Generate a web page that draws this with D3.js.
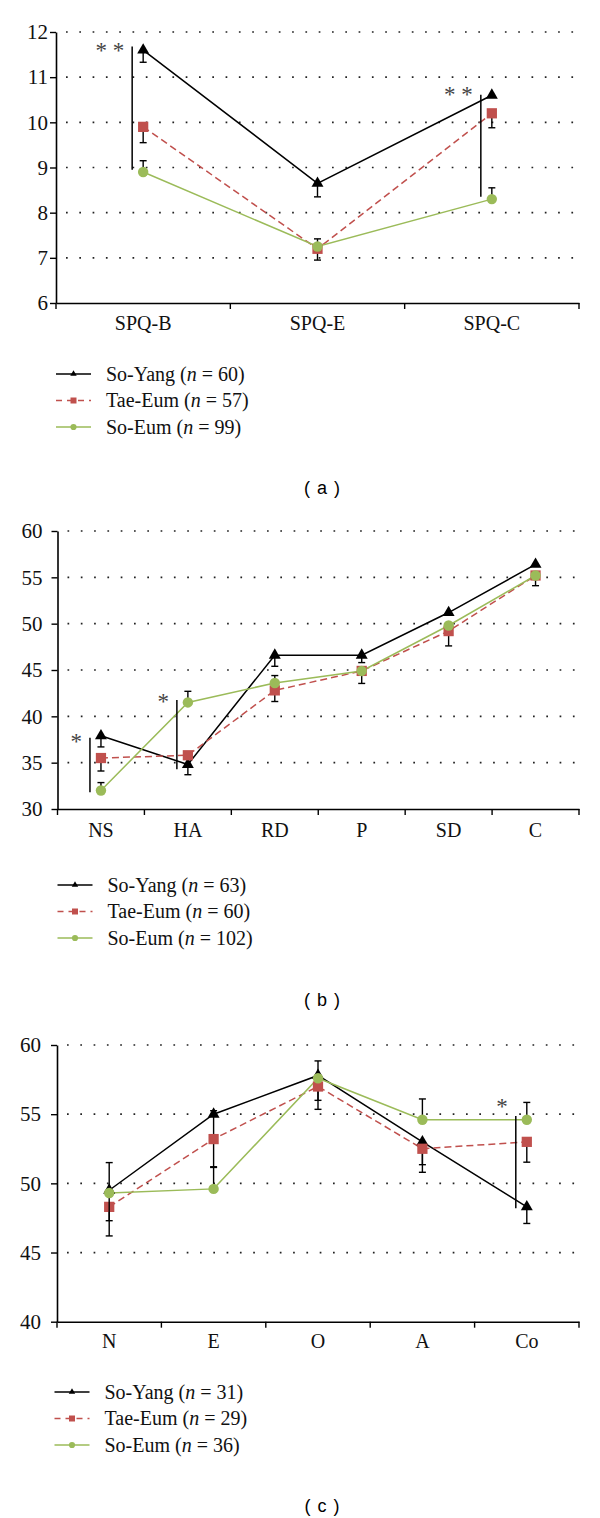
<!DOCTYPE html>
<html>
<head>
<meta charset="utf-8">
<script src="https://cdn.jsdelivr.net/npm/d3@7"></script>
<style>
  html, body { margin: 0; padding: 0; background: #fff; }
  svg { display: block; }
</style>
</head>
<body>
<svg id="chart" width="600" height="1518"></svg>
<script>
// ---------------- DATA ----------------
const seriesNames = ["So-Yang", "Tae-Eum", "So-Eum"];

// Panel (a)
const categoriesA = ["SPQ-B", "SPQ-E", "SPQ-C"];
const soYangA = [11.6, 8.65, 10.6];
const taeEumA = [9.9, 7.2, 10.2];
const soEumA  = [8.9, 7.25, 8.3];
const soYangAErrUp = [0, 0, 0],      soYangAErrDown = [0.27, 0.3, 0];
const taeEumAErrUp = [0, 0.22, 0],   taeEumAErrDown = [0.35, 0.25, 0.32];
const soEumAErrUp  = [0.25, 0, 0.25], soEumAErrDown = [0, 0, 0];
const nA = [60, 57, 99];
const yTicksA = [6, 7, 8, 9, 10, 11, 12];
const sigA = [
  { cat: "SPQ-B", lo: 8.95, hi: 11.68, star: 11.68, label: "* *" },
  { cat: "SPQ-C", lo: 8.35, hi: 10.61, star: 10.72, label: "* *" }
];

// Panel (b)
const categoriesB = ["NS", "HA", "RD", "P", "SD", "C"];
const soYangB = [37.9, 34.8, 46.6, 46.6, 51.2, 56.4];
const taeEumB = [35.5, 35.8, 42.8, 44.9, 49.2, 55.2];
const soEumB  = [32.0, 41.5, 43.6, 44.9, 49.8, 55.2];
const soYangBErrUp = [0, 0, 0, 0, 0, 0],      soYangBErrDown = [1.2, 1.1, 1.2, 0.8, 0, 0];
const taeEumBErrUp = [0, 0, 0, 0, 0, 0],      taeEumBErrDown = [1.4, 0, 1.2, 1.35, 1.6, 1.1];
const soEumBErrUp  = [0.85, 1.2, 0.8, 0, 0, 0], soEumBErrDown = [0, 0, 0, 0, 0, 0];
const nB = [63, 60, 102];
const yTicksB = [30, 35, 40, 45, 50, 55, 60];
const sigB = [
  { cat: "NS", lo: 31.8, hi: 37.7, star: 37.8, label: "*" },
  { cat: "HA", lo: 34.3, hi: 41.75, star: 42.1, label: "*" }
];

// Panel (c)
const categoriesC = ["N", "E", "O", "A", "Co"];
const soYangC = [49.5, 55.0, 57.8, 53.0, 48.3];
const taeEumC = [48.3, 53.2, 57.0, 52.5, 53.0];
const soEumC  = [49.3, 49.6, 57.6, 54.6, 54.6];
const soYangCErrUp = [2.0, 0, 0, 0, 0],        soYangCErrDown = [0, 0, 1.8, 1.65, 1.2];
const taeEumCErrUp = [0, 2.05, 0, 0, 0],       taeEumCErrDown = [2.1, 2.05, 1.65, 1.7, 1.47];
const soEumCErrUp  = [0, 1.6, 1.25, 1.5, 1.25], soEumCErrDown = [2.0, 0, 0, 0, 0];
const nC = [31, 29, 36];
const yTicksC = [40, 45, 50, 55, 60];
const sigC = [
  { cat: "Co", lo: 48.2, hi: 54.87, star: 55.9, label: "*" }
];

// ---------------- STYLE ----------------
const colors = ["#000000", "#c0504d", "#9bbb59"];
const dashes = [null, "7,4", null];
const symbols = [d3.symbolTriangle, d3.symbolSquare, d3.symbolCircle];
const symSizes = [62, 105, 85];
const legSymSizes = [18, 36, 30];
const serif = "'Liberation Serif', 'DejaVu Serif', serif";

const svg = d3.select("#chart");

function drawPanel(cfg) {
  const g = svg.append("g");
  const x = d3.scaleBand().domain(cfg.cats).range([cfg.x0, cfg.x1]).padding(0);
  const y = d3.scaleLinear().domain([cfg.ticks[0], cfg.ticks[cfg.ticks.length - 1]]).range([cfg.yBot, cfg.yTop]);
  const cx = c => x(c) + x.bandwidth() / 2;

  // dotted gridlines
  g.append("g").selectAll("line")
    .data(cfg.ticks.slice(1))
    .join("line")
    .attr("x1", cfg.x0 + 10).attr("x2", cfg.x1 - 4)
    .attr("y1", d => y(d)).attr("y2", d => y(d))
    .attr("stroke", "#222").attr("stroke-width", 1.7)
    .attr("stroke-dasharray", "1.7,11.6");

  // y axis
  const ya = g.append("g")
    .attr("transform", `translate(${cfg.x0},0)`)
    .attr("font-family", serif)
    .call(d3.axisLeft(y).tickValues(cfg.ticks).tickSize(6).tickSizeOuter(0).tickPadding(cfg.tickPad).tickFormat(d3.format("d")));
  ya.attr("font-family", serif).attr("font-size", cfg.tickFont);
  ya.select(".domain").attr("stroke", "#000").attr("stroke-width", 1.6);
  ya.selectAll(".tick line").attr("stroke", "#000").attr("stroke-width", 1.4);
  ya.selectAll(".tick text").style("font-family", serif).style("font-size", cfg.tickFont + "px").attr("fill", "#111");

  // x axis (labels at centers, ticks at band boundaries)
  const xa = g.append("g")
    .attr("transform", `translate(0,${cfg.yBot})`)
    .call(d3.axisBottom(x).tickSize(0).tickSizeOuter(0).tickPadding(0));
  xa.attr("font-family", serif).attr("font-size", cfg.fontSize);
  xa.select(".domain").attr("stroke", "#000").attr("stroke-width", 1.6);
  xa.selectAll(".tick text")
    .style("font-family", serif).style("font-size", cfg.fontSize + "px").attr("fill", "#111")
    .attr("dy", null).attr("y", cfg.labelDy);
  const bounds = d3.range(cfg.cats.length + 1).map(i => cfg.x0 + i * x.step());
  g.append("g").selectAll("line").data(bounds).join("line")
    .attr("x1", d => d).attr("x2", d => d)
    .attr("y1", cfg.yBot).attr("y2", cfg.yBot + 6)
    .attr("stroke", "#000").attr("stroke-width", 1.4);

  // lines
  const line = d3.line().x((d, i) => cx(cfg.cats[i])).y(d => y(d));
  cfg.series.forEach((s, si) => {
    g.append("path").datum(s.values)
      .attr("d", line).attr("fill", "none")
      .attr("stroke", colors[si]).attr("stroke-width", 1.5)
      .attr("stroke-dasharray", dashes[si]);
  });

  // error bars + markers
  cfg.series.forEach((s, si) => {
    const eg = g.append("g");
    s.values.forEach((v, i) => {
      const xc = cx(cfg.cats[i]);
      [[s.up[i], 1], [s.down[i], -1]].forEach(([e, dir]) => {
        if (!e) return;
        const yEnd = y(v + dir * e);
        eg.append("line").attr("x1", xc).attr("x2", xc).attr("y1", y(v)).attr("y2", yEnd)
          .attr("stroke", "#000").attr("stroke-width", 1.4);
        eg.append("line").attr("x1", xc - 3.5).attr("x2", xc + 3.5).attr("y1", yEnd).attr("y2", yEnd)
          .attr("stroke", "#000").attr("stroke-width", 1.4);
      });
    });
    g.append("g").selectAll("path").data(s.values).join("path")
      .attr("transform", (d, i) => `translate(${cx(cfg.cats[i])},${y(d)})`)
      .attr("d", d3.symbol().type(symbols[si]).size(symSizes[si]))
      .attr("fill", colors[si]);
  });

  // significance brackets
  cfg.sig.forEach(sg => {
    const lx = cx(sg.cat) - 11;
    g.append("line").attr("x1", lx).attr("x2", lx).attr("y1", y(sg.hi)).attr("y2", y(sg.lo))
      .attr("stroke", "#000").attr("stroke-width", 1.5);
    g.append("text").attr("x", lx - 8).attr("y", y(sg.star) + 12)
      .attr("text-anchor", "end").style("font-family", serif).style("font-size", "23px")
      .attr("fill", "#444").text(sg.label);
  });

  // legend
  const lg = g.append("g");
  cfg.series.forEach((s, si) => {
    const ly = cfg.legendY + si * 26.5;
    lg.append("line").attr("x1", cfg.legX).attr("x2", cfg.legX + 35).attr("y1", ly).attr("y2", ly)
      .attr("stroke", colors[si]).attr("stroke-width", 1.5)
      .attr("stroke-dasharray", si === 1 ? "6,5" : null);
    lg.append("path").attr("transform", `translate(${cfg.legX + 17.5},${ly})`)
      .attr("d", d3.symbol().type(symbols[si]).size(legSymSizes[si])).attr("fill", colors[si]);
    const t = lg.append("text").attr("x", cfg.legX + 50).attr("y", ly + 6.5)
      .style("font-family", serif).style("font-size", cfg.legFont + "px").attr("fill", "#111");
    t.append("tspan").text(seriesNames[si] + " (");
    t.append("tspan").attr("font-style", "italic").text("n");
    t.append("tspan").text(" = " + cfg.n[si] + ")");
  });

  // caption
  g.append("text").attr("x", 322).attr("y", cfg.captionY)
    .attr("text-anchor", "middle").style("font-family", "'Liberation Sans', Arial, sans-serif")
    .style("font-size", "18px").style("word-spacing", "2px").attr("fill", "#000")
    .attr("xml:space", "preserve").text(cfg.caption);
}

drawPanel({
  cats: categoriesA, ticks: yTicksA,
  series: [
    { values: soYangA, up: soYangAErrUp, down: soYangAErrDown },
    { values: taeEumA, up: taeEumAErrUp, down: taeEumAErrDown },
    { values: soEumA,  up: soEumAErrUp,  down: soEumAErrDown }
  ],
  sig: sigA, n: nA,
  x0: 56, x1: 579, yTop: 32, yBot: 303, tickPad: 2, tickFont: 21, fontSize: 20, legFont: 20, labelDy: 27,
  legendY: 374, legX: 56, caption: "( a )", captionY: 494
});

drawPanel({
  cats: categoriesB, ticks: yTicksB,
  series: [
    { values: soYangB, up: soYangBErrUp, down: soYangBErrDown },
    { values: taeEumB, up: taeEumBErrUp, down: taeEumBErrDown },
    { values: soEumB,  up: soEumBErrUp,  down: soEumBErrDown }
  ],
  sig: sigB, n: nB,
  x0: 57.5, x1: 579, yTop: 531, yBot: 809, tickPad: 9, tickFont: 21, fontSize: 20, legFont: 20, labelDy: 28,
  legendY: 885, legX: 57.5, caption: "( b )", captionY: 1006
});

drawPanel({
  cats: categoriesC, ticks: yTicksC,
  series: [
    { values: soYangC, up: soYangCErrUp, down: soYangCErrDown },
    { values: taeEumC, up: taeEumCErrUp, down: taeEumCErrDown },
    { values: soEumC,  up: soEumCErrUp,  down: soEumCErrDown }
  ],
  sig: sigC, n: nC,
  x0: 57, x1: 579, yTop: 1045, yBot: 1321.7, tickPad: 10, tickFont: 21, fontSize: 20, legFont: 20, labelDy: 26,
  legendY: 1392, legX: 54.5, caption: "( c )", captionY: 1512
});
</script>
</body>
</html>
